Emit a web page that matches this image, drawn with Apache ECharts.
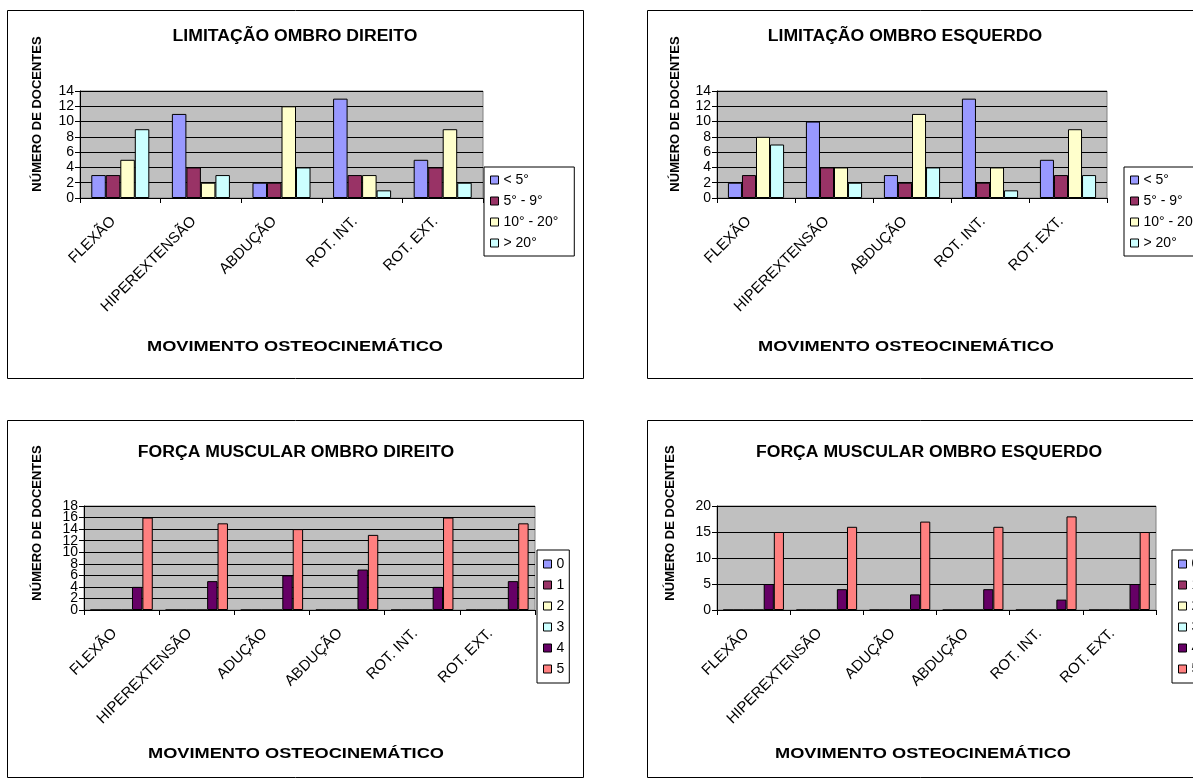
<!DOCTYPE html>
<html>
<head>
<meta charset="utf-8">
<script src="https://cdn.jsdelivr.net/npm/echarts@6/dist/echarts.min.js"></script>
<style>
html,body{margin:0;padding:0;background:#fff;}
#c{width:1193px;height:784px;}
</style>
</head>
<body>
<div id="c"></div>
<script>
// ---- data ----
const limitCategories = ['FLEXÃO', 'HIPEREXTENSÃO', 'ABDUÇÃO', 'ROT. INT.', 'ROT. EXT.'];
const limitSeriesNames = ['< 5°', '5° - 9°', '10° - 20°', '> 20°'];
const direitoMenos5 = [3, 11, 2, 13, 5];
const direito5a9 = [3, 4, 2, 3, 4];
const direito10a20 = [5, 2, 12, 3, 9];
const direitoMais20 = [9, 3, 4, 1, 2];
const esquerdoMenos5 = [2, 10, 3, 13, 5];
const esquerdo5a9 = [3, 4, 2, 2, 3];
const esquerdo10a20 = [8, 4, 11, 4, 9];
const esquerdoMais20 = [7, 2, 4, 1, 3];

const forcaCategories = ['FLEXÃO', 'HIPEREXTENSÃO', 'ADUÇÃO', 'ABDUÇÃO', 'ROT. INT.', 'ROT. EXT.'];
const forcaSeriesNames = ['0', '1', '2', '3', '4', '5'];
const forcaDireito0 = [0, 0, 0, 0, 0, 0];
const forcaDireito1 = [0, 0, 0, 0, 0, 0];
const forcaDireito2 = [0, 0, 0, 0, 0, 0];
const forcaDireito3 = [0, 0, 0, 0, 0, 0];
const forcaDireito4 = [4, 5, 6, 7, 4, 5];
const forcaDireito5 = [16, 15, 14, 13, 16, 15];
const forcaEsquerdo0 = [0, 0, 0, 0, 0, 0];
const forcaEsquerdo1 = [0, 0, 0, 0, 0, 0];
const forcaEsquerdo2 = [0, 0, 0, 0, 0, 0];
const forcaEsquerdo3 = [0, 0, 0, 0, 0, 0];
const forcaEsquerdo4 = [5, 4, 3, 4, 2, 5];
const forcaEsquerdo5 = [15, 16, 17, 16, 18, 15];

const limitTicks = [0, 14, 2];   // min, max, interval
const forcaDirTicks = [0, 18, 2];
const forcaDirTickLabels = [0, 2, 4, 6, 8, 10, 12, 14, 16, 18];
const forcaEsqTicks = [0, 20, 5];

// ---- styling ----
const FONT = 'Arial, "Liberation Sans", sans-serif';
const limitColors = ['#9999FF', '#993366', '#FFFFCC', '#CCFFFF'];
const forcaColors = ['#9999FF', '#993366', '#FFFFCC', '#CCFFFF', '#660066', '#FF8080'];

const chart = echarts.init(document.getElementById('c'), null, {renderer: 'canvas'});

const grids = [
  {left: 80, top: 91, width: 403, height: 107},
  {left: 717, top: 91, width: 390, height: 107},
  {left: 84, top: 506, width: 451, height: 104},
  {left: 717, top: 506, width: 439, height: 104}
];

function xAxis(idx, cats) {
  return {
    type: 'category', gridIndex: idx, data: cats,
    axisLine: {lineStyle: {color: '#000', width: 1}},
    axisTick: {show: true, length: 5, lineStyle: {color: '#000'}},
    axisLabel: {rotate: 45, interval: 0, color: '#000', fontFamily: FONT, fontSize: 15, margin: 14,
      padding: [0, 10, 0, 0]}
  };
}
function yAxis(idx, t) {
  return {
    type: 'value', gridIndex: idx, min: t[0], max: t[1], interval: t[2],
    axisLine: {show: true, lineStyle: {color: '#000', width: 1}},
    axisTick: {show: true, length: 5, lineStyle: {color: '#000'}},
    axisLabel: {color: '#000', fontFamily: FONT, fontSize: 14, margin: 6,
      showMinLabel: true, showMaxLabel: true, hideOverlap: false},
    splitLine: {show: true, lineStyle: {color: '#000', width: 1}}
  };
}
// the 0..18 axis is too dense for one label set: split labels over two coincident axes
const dirLabelsA = forcaDirTickLabels.filter((v, i) => i % 2 === 0);
const dirLabelsB = forcaDirTickLabels.filter((v, i) => i % 2 === 1);
const yForcaDirA = Object.assign(yAxis(2, forcaDirTicks), {});
yForcaDirA.axisLabel = Object.assign({}, yForcaDirA.axisLabel, {customValues: dirLabelsA});
yForcaDirA.axisTick = Object.assign({}, yForcaDirA.axisTick, {customValues: forcaDirTickLabels});
const yForcaDirB = {
  type: 'value', gridIndex: 2, min: forcaDirTicks[0], max: forcaDirTicks[1], interval: forcaDirTicks[2],
  position: 'left', offset: 0,
  axisLine: {show: false}, axisTick: {show: false}, splitLine: {show: false},
  axisLabel: {color: '#000', fontFamily: FONT, fontSize: 14, margin: 6, customValues: dirLabelsB,
    showMinLabel: true, showMaxLabel: true, hideOverlap: false}
};

function barSeries(name, data, color, idx, gapCat) {
  return {
    type: 'bar', name: name, data: data, xAxisIndex: idx, yAxisIndex: idx,
    barGap: '0%', barCategoryGap: gapCat,
    itemStyle: {color: color, borderColor: '#000', borderWidth: 1},
    emphasis: {disabled: true}, animation: false
  };
}
function legend(names, left, top, gap, pad) {
  return {
    data: names, orient: 'vertical', left: left, top: top,
    padding: pad, itemGap: gap, itemWidth: 8, itemHeight: 8, itemTextGap: 3,
    icon: 'rect', borderColor: '#000', borderWidth: 1, backgroundColor: '#fff',
    itemStyle: {borderColor: '#000', borderWidth: 1},
    textStyle: {color: '#000', fontFamily: FONT, fontSize: 14}, selectedMode: false
  };
}

const limitDir = [direitoMenos5, direito5a9, direito10a20, direitoMais20];
const limitEsq = [esquerdoMenos5, esquerdo5a9, esquerdo10a20, esquerdoMais20];
const forcaDir = [forcaDireito0, forcaDireito1, forcaDireito2, forcaDireito3, forcaDireito4, forcaDireito5];
const forcaEsq = [forcaEsquerdo0, forcaEsquerdo1, forcaEsquerdo2, forcaEsquerdo3, forcaEsquerdo4, forcaEsquerdo5];

const series = [];
limitDir.forEach((d, i) => series.push(barSeries(limitSeriesNames[i], d, limitColors[i], 0, '28%')));
limitEsq.forEach((d, i) => series.push(barSeries(limitSeriesNames[i], d, limitColors[i], 1, '28%')));
forcaDir.forEach((d, i) => series.push(barSeries(forcaSeriesNames[i], d, forcaColors[i], 2, '17%')));
forcaEsq.forEach((d, i) => series.push(barSeries(forcaSeriesNames[i], d, forcaColors[i], 3, '17%')));

function titleText(text, cx, y, size, sx) {
  return {type: 'text', x: cx, y: y, z: 10, scaleX: sx, scaleY: 1,
    style: {text: text, fill: '#000', font: 'bold ' + size + 'px ' + FONT, textAlign: 'center', textVerticalAlign: 'middle'}};
}
function vText(text, x, cy) {
  return {type: 'text', x: x, y: cy, rotation: Math.PI / 2, z: 10,
    style: {text: text, fill: '#000', font: 'bold 13px ' + FONT, textAlign: 'center', textVerticalAlign: 'middle'}};
}
function box(x, y, w, h) {
  return {type: 'rect', shape: {x: x, y: y, width: w, height: h}, z: -1,
    style: {fill: '#fff', stroke: '#000', lineWidth: 1}};
}

const option = {
  animation: false,
  backgroundColor: '#fff',
  grid: grids.map(g => Object.assign({show: true, backgroundColor: '#C0C0C0', borderColor: '#808080', borderWidth: 1, containLabel: false}, g)),
  xAxis: [xAxis(0, limitCategories), xAxis(1, limitCategories), xAxis(2, forcaCategories), xAxis(3, forcaCategories)],
  yAxis: [yAxis(0, limitTicks), yAxis(1, limitTicks), yForcaDirA, yAxis(3, forcaEsqTicks), yForcaDirB],
  legend: [
    legend(limitSeriesNames, 484, 167, 7, [6, 16, 6, 6]),
    legend(limitSeriesNames, 1124, 167, 7, [6, 16, 6, 6]),
    legend(forcaSeriesNames, 537, 550, 7, [7, 5, 7, 6]),
    legend(forcaSeriesNames, 1172, 550, 7, [7, 5, 7, 6])
  ],
  graphic: [
    box(7.5, 10.5, 576, 368),
    box(647.5, 10.5, 560, 368),
    box(7.5, 420.5, 576, 357),
    box(647.5, 420.5, 560, 357),
    titleText('LIMITAÇÃO OMBRO DIREITO', 295, 37, 16, 1.1),
    titleText('LIMITAÇÃO OMBRO ESQUERDO', 905, 37, 16, 1.1),
    titleText('FORÇA MUSCULAR OMBRO DIREITO', 296, 453, 16, 1.1),
    titleText('FORÇA MUSCULAR OMBRO ESQUERDO', 929, 453, 16, 1.1),
    titleText('MOVIMENTO OSTEOCINEMÁTICO', 295, 347, 14, 1.3),
    titleText('MOVIMENTO OSTEOCINEMÁTICO', 906, 347, 14, 1.3),
    titleText('MOVIMENTO OSTEOCINEMÁTICO', 296, 754, 14, 1.3),
    titleText('MOVIMENTO OSTEOCINEMÁTICO', 923, 754, 14, 1.3),
    vText('NÚMERO DE DOCENTES', 37, 114),
    vText('NÚMERO DE DOCENTES', 675, 114),
    vText('NÚMERO DE DOCENTES', 37, 523),
    vText('NÚMERO DE DOCENTES', 670, 523)
  ],
  series: series
};
chart.setOption(option);
</script>
</body>
</html>
